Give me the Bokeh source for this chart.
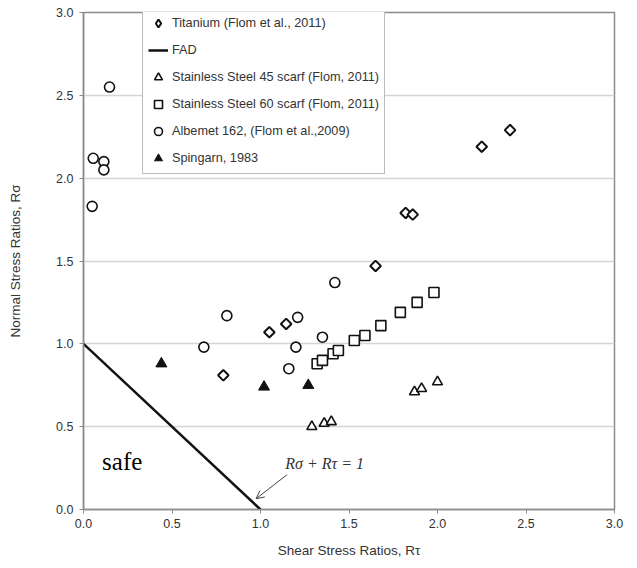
import numpy as np
from bokeh.plotting import figure
from bokeh.models import (Legend, LegendItem, FixedTicker, PrintfTickFormatter,
                          Label, Arrow, OpenHead, Range1d)
from bokeh.embed import file_html
from bokeh.resources import INLINE

# ---- data ----
ti_x = [0.79, 1.05, 1.145, 1.65, 1.82, 1.86, 2.25, 2.41]
ti_y = [0.81, 1.07, 1.12, 1.47, 1.79, 1.78, 2.19, 2.29]

fad_x = [0.0, 1.0]
fad_y = [1.0, 0.0]

ss45_x = [1.29, 1.36, 1.40, 1.87, 1.91, 2.00]
ss45_y = [0.50, 0.52, 0.53, 0.71, 0.73, 0.77]

ss60_x = [1.32, 1.35, 1.41, 1.44, 1.53, 1.59, 1.68, 1.79, 1.885, 1.98]
ss60_y = [0.88, 0.90, 0.94, 0.96, 1.02, 1.05, 1.11, 1.19, 1.25, 1.31]

alb_x = [0.147, 0.055, 0.115, 0.115, 0.049, 0.81, 0.68, 1.21, 1.20, 1.16, 1.35, 1.42]
alb_y = [2.55, 2.12, 2.10, 2.05, 1.83, 1.17, 0.98, 1.16, 0.98, 0.85, 1.04, 1.37]

spg_x = [0.44, 1.02, 1.27]
spg_y = [0.88, 0.74, 0.75]

ticks = [0.0, 0.5, 1.0, 1.5, 2.0, 2.5, 3.0]

labels = ["Titanium (Flom et al., 2011)", "FAD",
          "Stainless Steel 45 scarf (Flom, 2011)",
          "Stainless Steel 60 scarf (Flom, 2011)",
          "Albemet 162, (Flom et al.,2009)", "Spingarn, 1983"]

# ---- figure ----
p = figure(width=629, height=560, output_backend="svg", toolbar_location=None,
           x_range=Range1d(0, 3), y_range=Range1d(0, 3),
           min_border_left=83, min_border_right=15, min_border_top=12,
           min_border_bottom=50)
p.background_fill_color = "white"
p.outline_line_color = "#8c8c8c"
p.outline_line_width = 1.5

p.xgrid.visible = False
p.ygrid.ticker = FixedTicker(ticks=ticks)
p.ygrid.grid_line_color = "#d4d4d4"
p.ygrid.grid_line_width = 1.5

for ax in (p.xaxis[0], p.yaxis[0]):
    ax.ticker = FixedTicker(ticks=ticks)
    ax.formatter = PrintfTickFormatter(format="%.1f")
    ax.axis_line_color = "#8c8c8c"
    ax.axis_line_width = 1.5
    ax.major_tick_line_color = "#8c8c8c"
    ax.major_tick_out = 4
    ax.major_tick_in = 0
    ax.minor_tick_line_color = None
    ax.major_label_text_font = "Liberation Sans"
    ax.major_label_text_font_size = "12.5px"
    ax.major_label_text_color = "#333333"
    ax.axis_label_text_font = "Liberation Sans"
    ax.axis_label_text_font_size = "13.5px"
    ax.axis_label_text_font_style = "normal"
    ax.axis_label_text_color = "#333333"

p.xaxis.axis_label = "Shear Stress Ratios, Rτ"
p.yaxis.axis_label = "Normal Stress Ratios, Rσ"
p.yaxis.major_label_standoff = 6
p.xaxis.axis_label_standoff = 12
p.yaxis.axis_label_standoff = 30

# ---- glyphs ----
r_ti = p.scatter(ti_x, ti_y, marker="square", angle=np.pi / 4, size=7.5,
                 fill_color="white", line_color="#111111", line_width=2)
# legend-only swatch, placed outside the visible ranges
r_ti_leg = p.scatter([-1.0], [-1.0], marker="diamond", size=10,
                     fill_color="white", line_color="#111111", line_width=2)
r_fad = p.line(fad_x, fad_y, line_color="#111111", line_width=2.5)
r_45 = p.scatter(ss45_x, ss45_y, marker="triangle", size=10,
                 fill_color="white", line_color="#111111", line_width=1.6)
r_60 = p.scatter(ss60_x, ss60_y, marker="square", size=10,
                 fill_color="white", line_color="#111111", line_width=1.6)
r_alb = p.scatter(alb_x, alb_y, marker="circle", size=10,
                  fill_color="white", line_color="#111111", line_width=1.6)
r_spg = p.scatter(spg_x, spg_y, marker="triangle", size=11,
                  fill_color="#111111", line_color="#111111", line_width=1)

# ---- annotations ----
p.add_layout(Label(x=0.105, y=0.29, text="safe", text_font="Liberation Serif",
                   text_font_size="25px", text_color="black",
                   text_baseline="middle"))
p.add_layout(Label(x=1.14, y=0.28, text="Rσ + Rτ = 1", text_font="Liberation Serif",
                   text_font_style="italic", text_font_size="16px",
                   text_color="#333333", text_baseline="middle"))
p.add_layout(Arrow(x_start=1.15, y_start=0.21, x_end=0.975, y_end=0.065,
                   line_color="#444444", line_width=1,
                   end=OpenHead(size=8, line_color="#444444", line_width=1)))

# ---- legend ----
rends = [r_ti_leg, r_fad, r_45, r_60, r_alb, r_spg]
legend = Legend(items=[LegendItem(label=l, renderers=[r]) for l, r in zip(labels, rends)],
                location=(59, 335))
legend.label_text_font = "Liberation Sans"
legend.label_text_font_size = "12.7px"
legend.label_text_color = "#333333"
legend.glyph_width = 20
legend.glyph_height = 20
legend.label_height = 20
legend.spacing = 7
legend.padding = 5
legend.label_standoff = 4
legend.border_line_color = "#777777"
legend.border_line_width = 1.5
legend.background_fill_alpha = 1
p.add_layout(legend, "center")

open("out.html", "w").write(file_html(p, INLINE))
